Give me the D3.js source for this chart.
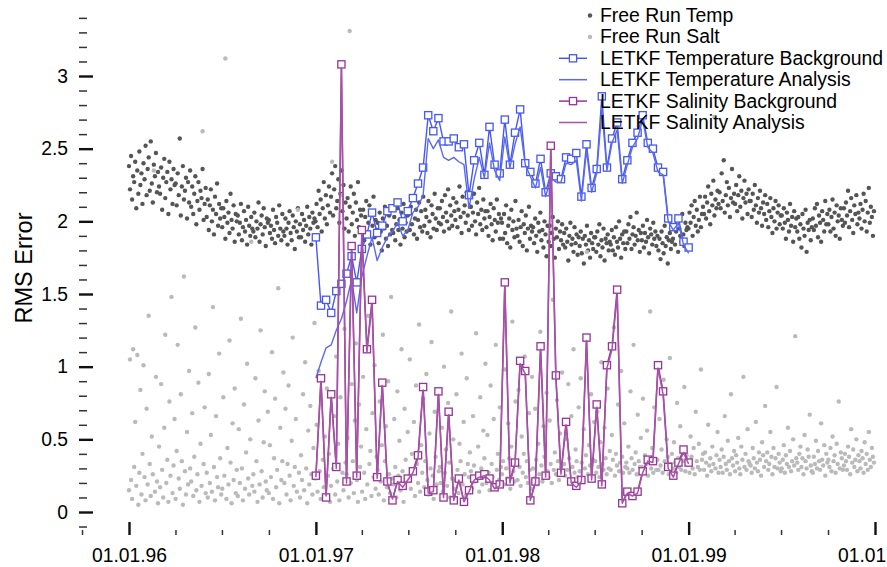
<!DOCTYPE html>
<html>
<head>
<meta charset="utf-8">
<script src="https://cdn.jsdelivr.net/npm/d3@7"></script>
<style>
body { margin: 0; background: #fff; }
svg { font-family: "Liberation Sans", Arial, Helvetica, sans-serif; }
</style>
</head>
<body>
<script>
// Free run: one value about every 2 days, 1996-01-01 .. 1999-12-31 (one row = one month)
var freeTemp = [
2.38,2.22,2.45,2.15,2.31,2.27,2.41,2.09,2.35,2.19,2.48,2.25,2.33,2.12,2.40,
2.29,2.52,2.18,2.36,2.44,2.21,2.55,2.26,2.13,2.39,2.31,2.47,2.20,2.34,2.24,
2.19,2.37,2.08,2.30,2.43,2.16,2.27,2.34,2.05,2.41,2.22,2.29,2.12,2.36,2.25,
2.26,2.11,2.33,2.18,2.57,2.04,2.24,2.38,2.15,2.21,2.30,2.02,2.27,2.13,2.35,
2.10,2.24,2.05,2.19,2.31,1.98,2.14,2.27,2.08,2.21,2.16,2.36,2.01,2.12,2.23,
2.03,2.15,1.94,2.11,2.22,2.00,2.08,1.91,2.17,2.05,2.26,1.97,2.12,2.02,2.09,
1.96,2.09,2.03,1.88,2.14,1.99,2.06,1.92,2.19,2.01,1.95,2.11,1.86,2.05,2.00,
2.04,1.91,1.99,2.12,1.87,1.96,2.07,1.93,2.01,1.84,2.10,1.97,1.90,2.03,1.95,
1.93,2.06,1.89,2.00,1.95,2.13,1.86,1.98,2.04,1.91,2.09,1.96,1.83,2.02,1.99,
2.01,1.92,1.97,1.88,2.08,1.94,1.85,2.03,1.99,1.90,2.11,1.95,1.87,2.05,1.93,
1.90,2.02,1.95,1.84,1.99,2.07,1.92,1.87,2.04,1.96,1.81,2.00,1.93,2.09,1.89,
1.98,1.89,2.05,1.94,2.01,1.86,1.97,2.10,1.91,2.03,1.95,1.84,2.06,1.99,2.02,
2.00,2.12,1.96,2.21,2.05,2.15,1.93,2.09,2.27,2.02,2.18,1.98,2.11,2.24,2.06,
2.17,2.33,2.04,2.22,2.38,2.09,2.14,2.29,1.99,2.19,2.35,2.07,2.25,1.95,2.13,
2.02,2.16,1.93,2.10,2.24,1.98,2.06,2.19,1.90,2.13,2.01,2.27,1.96,2.08,2.04,
1.95,2.08,1.87,2.03,2.14,1.92,1.99,2.11,1.84,2.05,1.97,2.17,1.89,2.01,1.94,
1.99,1.85,2.06,1.93,1.80,2.02,1.95,2.10,1.88,1.97,1.83,2.04,1.91,2.08,1.94,
1.92,2.03,1.87,1.98,2.09,1.94,2.01,1.84,2.06,1.95,2.12,1.89,1.99,1.93,2.04,
2.05,1.94,2.10,1.98,2.15,1.91,2.02,2.08,1.88,2.01,2.13,1.96,2.07,1.93,2.17,
1.97,2.08,2.03,1.92,2.14,2.00,1.89,2.11,2.05,1.95,2.19,2.02,1.94,2.09,1.99,
2.09,1.98,2.14,2.03,1.93,2.18,2.06,2.00,2.22,1.95,2.11,2.04,1.97,2.16,2.07,
2.01,2.13,1.96,2.08,2.24,2.03,1.92,2.17,2.06,2.11,1.99,2.20,2.04,1.94,2.10,
2.10,1.97,2.06,2.19,2.00,1.91,2.13,2.05,2.23,1.98,2.08,1.94,2.15,2.02,2.07,
1.96,2.07,1.90,2.03,2.12,1.98,1.87,2.09,2.01,1.93,2.15,1.99,2.05,1.88,2.02,
1.99,1.88,2.05,1.92,2.11,1.85,1.97,2.02,1.82,2.08,1.94,2.00,1.89,2.14,1.95,
1.90,2.01,1.86,1.96,2.07,1.83,1.98,1.92,2.04,1.80,1.95,2.10,1.88,1.97,1.93,
1.96,1.85,2.02,1.90,1.79,1.99,1.93,2.06,1.87,1.94,1.82,2.00,1.91,1.76,1.97,
1.86,1.97,1.83,1.92,2.03,1.88,1.75,1.95,1.89,2.00,1.81,1.93,1.87,1.98,1.84,
1.92,1.82,1.95,1.86,1.73,1.90,1.99,1.84,1.88,1.79,1.96,1.85,1.91,1.77,1.89,
1.83,1.93,1.78,1.88,1.71,1.90,1.84,1.97,1.80,1.87,1.75,1.92,1.85,1.81,1.89,
1.89,1.79,1.93,1.84,1.98,1.76,1.87,1.82,1.95,1.73,1.88,1.85,1.91,1.80,1.86,
1.84,1.94,1.80,1.89,1.77,1.96,1.86,1.82,2.00,1.88,1.75,1.91,1.85,1.93,1.81,
1.93,1.85,1.98,1.88,2.03,1.81,1.91,1.96,1.84,1.90,2.06,1.87,1.94,1.79,1.92,
1.87,1.97,1.82,1.92,1.86,2.01,1.89,1.78,1.95,1.91,1.84,1.99,1.88,1.93,1.83,
1.90,1.80,1.88,1.74,1.93,1.85,1.78,1.97,1.83,1.89,1.71,1.87,1.92,1.81,1.86,
1.88,1.97,1.84,1.93,2.02,1.79,1.95,1.90,1.86,2.05,1.91,1.83,1.99,1.94,1.96,
1.95,2.06,1.99,2.11,1.90,2.03,2.14,1.97,2.08,1.93,2.01,2.17,1.96,2.05,2.10,
2.05,2.17,2.02,2.13,2.24,2.07,1.98,2.19,2.11,2.28,2.04,2.15,2.09,2.21,2.12,
2.20,2.09,2.33,2.14,2.42,2.06,2.18,2.27,2.11,2.23,2.03,2.16,2.36,2.13,2.19,
2.12,2.25,2.07,2.18,2.31,2.10,2.21,2.02,2.16,2.28,2.13,2.19,2.05,2.22,2.14,
2.14,2.03,2.19,2.08,2.25,2.11,1.99,2.16,2.06,2.21,2.09,1.97,2.13,2.05,2.18,
2.01,2.12,1.96,2.07,2.16,2.03,1.92,2.09,2.00,2.14,1.95,2.06,2.11,1.98,2.04,
2.04,1.95,2.09,1.99,1.88,2.06,2.01,1.93,2.12,1.97,2.03,1.86,2.07,1.96,2.02,
1.93,2.03,1.88,1.98,1.82,2.05,1.95,1.90,2.08,1.79,1.99,1.94,2.01,1.87,1.96,
2.02,1.94,2.09,1.97,2.12,1.89,2.04,1.99,1.86,2.07,2.01,1.93,2.14,1.98,2.05,
1.98,2.08,1.93,2.03,2.15,1.95,2.06,1.90,2.11,2.00,2.04,1.88,2.09,2.01,1.97,
2.09,1.99,2.13,2.04,2.21,1.96,2.07,2.16,2.01,1.92,2.11,2.05,2.18,1.98,2.06,
2.02,2.12,1.95,2.08,2.19,2.00,2.14,1.93,2.06,2.23,1.99,2.10,2.03,1.90,2.07
];

var freeSalt = [
0.15,1.05,0.22,0.09,1.12,0.31,0.62,0.18,1.08,0.05,0.27,0.84,0.12,0.40,1.01,
0.24,0.08,0.71,0.19,1.35,0.33,0.11,0.52,0.26,2.35,0.14,0.93,0.21,0.06,0.45,
0.17,0.88,0.29,0.10,0.58,1.22,0.20,0.36,0.07,0.76,0.25,1.48,0.13,0.32,0.64,
0.09,0.42,1.15,0.23,0.16,0.81,0.35,0.05,1.62,0.28,0.12,0.55,0.19,0.97,0.30,
0.21,0.68,0.11,0.38,1.27,0.15,0.26,0.89,0.07,0.47,0.18,2.62,0.33,0.72,0.13,
0.27,0.10,0.95,0.20,0.53,0.14,1.41,0.31,0.08,0.66,0.24,0.17,1.09,0.37,0.12,
0.16,0.79,0.25,3.12,0.09,0.44,0.19,1.18,0.34,0.06,0.61,0.22,0.85,0.13,0.29,
0.11,0.57,0.20,1.33,0.30,0.08,0.74,0.16,0.41,1.02,0.23,0.12,0.50,1.86,0.18,
0.26,0.14,0.92,0.35,0.07,0.63,0.19,1.25,0.28,0.10,0.48,0.83,0.21,0.15,0.69,
0.13,0.46,0.24,1.10,0.09,0.37,0.78,0.17,0.29,1.54,0.06,0.58,0.22,0.35,0.96,
0.20,0.71,0.12,0.33,0.87,0.25,0.08,0.49,1.20,0.18,0.31,0.64,0.14,2.08,0.27,
0.10,0.39,0.22,0.81,0.15,1.03,0.30,0.06,0.56,0.19,0.73,0.26,0.12,0.44,1.30,
0.23,0.60,0.14,0.97,0.28,0.09,1.44,0.36,0.17,0.52,0.11,0.85,0.25,0.40,0.07,
0.18,2.41,0.30,0.66,0.12,1.07,0.21,0.47,0.08,0.79,2.18,0.27,0.15,1.26,0.34,
0.26,0.51,0.10,3.31,0.20,0.88,0.35,0.13,0.63,1.16,0.22,0.07,0.74,0.31,0.45,
0.14,0.93,0.27,0.09,0.57,0.19,1.35,0.33,0.42,0.11,0.68,0.24,1.01,0.16,0.38,
0.29,0.12,0.76,0.21,0.46,1.22,0.08,0.35,0.59,0.17,0.90,0.26,0.13,1.48,0.23,
0.19,0.64,0.31,0.10,0.83,0.25,0.49,0.15,1.12,0.28,0.07,0.71,0.36,0.21,0.55,
0.24,1.05,0.16,0.40,0.28,0.62,0.11,0.87,0.33,0.20,1.29,0.14,0.46,0.27,0.78,
0.17,0.35,0.95,0.22,0.12,0.54,0.30,1.17,0.25,0.09,0.69,0.38,0.19,0.84,0.28,
0.31,0.20,0.58,0.14,1.00,0.27,0.43,0.18,0.75,0.34,0.10,1.38,0.23,0.50,0.16,
0.22,0.81,0.29,0.13,0.47,0.35,1.09,0.19,0.62,0.26,0.11,0.92,0.33,0.24,0.41,
0.28,0.16,0.66,0.32,0.21,1.23,0.25,0.45,0.14,0.79,0.30,0.19,0.56,0.37,1.02,
0.20,0.53,0.27,0.15,0.87,0.33,0.24,0.64,0.18,1.15,0.29,0.40,0.22,0.72,0.31,
0.26,0.35,0.19,0.98,0.30,0.23,0.61,0.37,0.16,0.45,1.31,0.28,0.21,0.76,0.33,
0.22,0.84,0.31,0.18,0.52,0.27,0.40,1.07,0.24,0.35,0.20,0.68,0.29,0.16,0.93,
0.30,0.23,0.71,0.36,0.19,0.47,0.26,1.24,0.32,0.21,0.59,0.38,0.25,0.82,0.28,
0.24,0.63,0.33,0.20,1.46,0.29,0.41,0.26,0.77,0.35,0.22,0.54,0.31,0.96,0.27,
0.33,0.25,0.50,0.29,0.88,0.37,0.21,0.66,0.31,1.12,0.27,0.43,0.35,0.24,0.72,
0.28,0.92,0.34,0.23,0.57,0.30,0.39,1.79,0.26,0.46,0.32,0.81,0.25,0.36,0.62,
0.35,0.27,0.69,0.31,0.24,0.48,1.03,0.33,0.29,0.58,0.37,0.26,0.85,0.30,0.42,
0.29,0.53,0.36,1.27,0.25,0.40,0.32,0.74,0.28,0.34,0.97,0.38,0.27,0.61,0.31,
0.34,0.30,0.45,0.27,0.83,0.37,0.29,1.15,0.33,0.41,0.26,0.67,0.35,0.31,0.51,
0.31,0.78,0.28,0.39,0.33,0.56,0.25,0.36,1.38,0.30,0.44,0.27,0.72,0.34,0.29,
0.36,0.29,0.64,0.32,0.43,0.27,0.91,0.35,0.30,0.50,0.38,0.26,1.06,0.33,0.40,
0.30,0.48,0.34,0.27,0.75,0.37,0.31,0.59,0.29,0.42,0.35,0.86,0.28,0.39,0.33,
0.33,0.27,0.52,0.38,0.30,0.44,0.26,0.69,0.35,0.31,0.47,0.29,0.98,0.36,0.40,
0.29,0.41,0.34,0.25,0.60,0.32,0.37,0.28,0.45,0.33,2.72,0.30,0.39,0.55,0.27,
0.36,0.31,0.43,0.27,0.38,0.66,0.33,0.29,0.49,0.35,0.26,0.81,0.37,0.32,0.42,
0.28,0.39,0.34,0.51,0.30,0.26,0.45,0.36,0.93,0.31,0.40,0.29,0.57,0.35,0.33,
0.32,0.27,0.44,0.37,0.30,0.62,0.34,0.28,0.41,0.36,0.25,0.48,0.39,0.31,0.73,
0.35,0.41,0.29,0.33,0.55,0.38,0.26,0.44,0.31,0.37,0.86,0.30,0.40,0.34,0.28,
0.30,0.36,0.46,0.27,0.39,0.33,0.58,0.31,0.42,0.28,0.35,0.50,0.32,1.21,0.37,
0.34,0.29,0.40,0.45,0.31,0.37,0.26,0.53,0.35,0.30,0.43,0.38,0.67,0.32,0.28,
0.27,0.38,0.33,0.49,0.30,0.42,0.35,0.29,0.61,0.36,0.32,0.46,0.25,0.40,0.34,
0.36,0.31,0.44,0.28,0.52,0.35,0.39,0.27,0.47,0.33,0.76,0.30,0.41,0.37,0.29,
0.32,0.40,0.35,0.29,0.45,0.38,0.26,0.57,0.34,0.43,0.31,0.36,0.50,0.28,0.39,
0.35,0.30,0.42,0.37,0.27,0.48,0.33,0.40,0.29,0.55,0.36,0.31,0.44,0.38,0.34
];

// LETKF: one value every 10 days from 1997-01-01
var tempBg = [1.89,1.42,1.46,1.37,1.52,1.57,1.64,1.76,1.58,1.81,1.91,2.06,1.92,1.97,2.07,2.09,2.13,2.00,2.07,2.16,
  2.26,2.37,2.73,2.62,2.71,2.55,2.55,2.57,2.51,2.53,2.18,2.42,2.54,2.32,2.65,2.39,2.33,2.70,2.39,2.61,
  2.77,2.40,2.34,2.26,2.43,2.20,2.33,2.31,2.29,2.44,2.43,2.47,2.17,2.53,2.23,2.36,2.86,2.37,2.57,2.68,
  2.29,2.42,2.54,2.61,2.73,2.54,2.50,2.37,2.34,2.02,1.96,2.02,1.86,1.82];
var tempAn = [0.92,1.03,1.13,1.15,1.25,1.33,1.45,1.60,1.37,1.62,1.76,1.89,1.73,1.82,1.89,1.93,1.99,1.90,1.94,2.06,
  2.10,2.18,2.57,2.50,2.56,2.44,2.42,2.44,2.41,2.39,2.09,2.29,2.44,2.30,2.54,2.35,2.28,2.58,2.37,2.53,
  2.65,2.39,2.31,2.23,2.37,2.17,2.30,2.27,2.27,2.40,2.39,2.42,2.14,2.49,2.20,2.33,2.77,2.35,2.54,2.63,
  2.26,2.39,2.51,2.57,2.70,2.51,2.47,2.34,2.32,2.00,1.94,1.99,1.84,1.78];
var saltBg = [0.25,0.92,0.10,0.81,0.31,3.08,0.21,1.83,0.25,1.94,1.12,1.46,0.24,0.89,0.21,0.08,0.22,0.18,0.23,0.28,
  0.39,0.86,0.14,0.15,0.83,0.10,0.69,0.08,0.23,0.07,0.15,0.23,0.25,0.26,0.23,0.17,0.19,1.58,0.21,0.34,
  1.04,0.97,0.08,0.21,1.14,0.25,2.52,0.94,0.27,0.62,0.21,0.18,0.22,1.20,0.23,0.74,0.19,1.01,1.14,1.53,
  0.06,0.14,0.11,0.14,0.28,0.36,0.35,1.01,0.83,0.31,0.25,0.34,0.43,0.34];
var saltAn = [0.24,0.90,0.11,0.79,0.30,3.05,0.20,1.80,0.24,1.91,1.10,1.43,0.23,0.87,0.20,0.09,0.21,0.17,0.22,0.27,
  0.37,0.84,0.13,0.14,0.81,0.10,0.67,0.08,0.22,0.07,0.14,0.22,0.24,0.25,0.22,0.16,0.18,1.55,0.20,0.33,
  1.02,0.95,0.08,0.20,1.12,0.24,2.49,0.92,0.26,0.60,0.20,0.17,0.21,1.18,0.22,0.72,0.18,0.99,1.12,1.50,
  0.06,0.13,0.11,0.13,0.27,0.35,0.34,0.99,0.81,0.30,0.24,0.33,0.41,0.33];

var legendLabels = ["Free Run Temp", "Free Run Salt", "LETKF Temperature Background",
  "LETKF Temperature Analysis", "LETKF Salinity Background", "LETKF Salinity Analysis"];
var yMajor = [0, 0.5, 1, 1.5, 2, 2.5, 3];
var yLabels = ["0", "0.5", "1", "1.5", "2", "2.5", "3"];
var xYears = [1996, 1997, 1998, 1999, 2000];

var width = 887, height = 567;
var cTempFree = "#555555", cSaltFree = "#bababa";
var cTempBg = "#4657f2", cTempAn = "#5a6af0", cSaltBg = "#963596", cSaltAn = "#a752a7";

var svg = d3.select("body").append("svg")
  .attr("width", width)
  .attr("height", height);

var x = d3.scaleUtc()
  .domain([new Date(Date.UTC(1996, 0, 1)), new Date(Date.UTC(2000, 0, 1))])
  .range([129, 875]);
var y = d3.scaleLinear()
  .domain([0, 3])
  .range([512, 76]);

var freeStart = Date.UTC(1996, 0, 1), freeStep = 1461 / 720 * 864e5;
function freeDate(i) { return new Date(freeStart + i * freeStep); }
function letkfDate(i) { return d3.utcDay.offset(new Date(Date.UTC(1997, 0, 1)), 10 * i); }

// y axis: major + minor ticks, no domain line
var yAxis = svg.append("g")
  .attr("transform", "translate(93,0)")
  .call(d3.axisLeft(y).tickValues(yMajor).tickSize(14).tickPadding(11)
    .tickFormat(function(d, i) { return yLabels[i]; }));
yAxis.select(".domain").remove();
yAxis.selectAll("line").attr("stroke", "#111").attr("stroke-width", 2.4);
yAxis.selectAll("text").attr("font-size", "19.3px").attr("fill", "#000")
  .attr("font-family", "Liberation Sans, Arial, sans-serif");

var yMinor = d3.range(-1, 35).filter(function(k) { return k % 5 !== 0; }).map(function(k) { return k / 10; });
var yAxisMinor = svg.append("g")
  .attr("transform", "translate(87,0)")
  .call(d3.axisLeft(y).tickValues(yMinor).tickSize(8).tickFormat(""));
yAxisMinor.select(".domain").remove();
yAxisMinor.selectAll("line").attr("stroke", "#333").attr("stroke-width", 1.5);

// x axis
var xMajor = xYears.map(function(yr) { return new Date(Date.UTC(yr, 0, 1)); });
var xAxis = svg.append("g")
  .attr("transform", "translate(0,522)")
  .call(d3.axisBottom(x).tickValues(xMajor).tickSize(13).tickPadding(13)
    .tickFormat(d3.utcFormat("%d.%m.%y")));
xAxis.select(".domain").remove();
xAxis.selectAll("line").attr("stroke", "#111").attr("stroke-width", 2.4);
xAxis.selectAll("text").attr("font-size", "19.3px").attr("fill", "#000")
  .attr("font-family", "Liberation Sans, Arial, sans-serif");

var xMinor = d3.utcMonth.every(3).range(new Date(Date.UTC(1995, 9, 1)), new Date(Date.UTC(2000, 0, 2)))
  .filter(function(d) { return d.getUTCMonth() !== 0; });
var xAxisMinor = svg.append("g")
  .attr("transform", "translate(0,530)")
  .call(d3.axisBottom(x).tickValues(xMinor).tickSize(5).tickFormat(""));
xAxisMinor.select(".domain").remove();
xAxisMinor.selectAll("line").attr("stroke", "#333").attr("stroke-width", 1.5);

// y label
svg.append("text")
  .attr("transform", "translate(32,268) rotate(-90)")
  .attr("text-anchor", "middle")
  .attr("font-size", "23.5px")
  .attr("fill", "#000")
  .text("RMS Error");

// free run dots
svg.append("g").selectAll("circle").data(freeTemp).join("circle")
  .attr("cx", function(d, i) { return x(freeDate(i)); })
  .attr("cy", function(d) { return y(d); })
  .attr("r", 2.2)
  .attr("fill", cTempFree);
svg.append("g").selectAll("circle").data(freeSalt).join("circle")
  .attr("cx", function(d, i) { return x(freeDate(i)); })
  .attr("cy", function(d) { return y(d); })
  .attr("r", 2.2)
  .attr("fill", cSaltFree);

var line = d3.line()
  .x(function(d, i) { return x(letkfDate(i)); })
  .y(function(d) { return y(d); });

function drawSeries(vals, color, width, markers) {
  svg.append("path").datum(vals)
    .attr("d", line)
    .attr("fill", "none")
    .attr("stroke", color)
    .attr("stroke-width", width)
    .attr("stroke-linejoin", "round");
  if (markers) {
    svg.append("g").selectAll("rect").data(vals).join("rect")
      .attr("x", function(d, i) { return x(letkfDate(i)) - 3.6; })
      .attr("y", function(d) { return y(d) - 3.6; })
      .attr("width", 7.2).attr("height", 7.2)
      .attr("fill", "#fff")
      .attr("stroke", color)
      .attr("stroke-width", 1.3);
  }
}
drawSeries(tempBg, cTempBg, 1.4, true);
drawSeries(tempAn, cTempAn, 1.4, false);
drawSeries(saltBg, cSaltBg, 1.5, true);
drawSeries(saltAn, cSaltAn, 1.5, false);

// legend
var legendColors = [cTempFree, cSaltFree, cTempBg, cTempAn, cSaltBg, cSaltAn];
var legend = svg.append("g");
legendLabels.forEach(function(lab, i) {
  var base = 22 + i * 21.4, cy = base - 6.5;
  if (i < 2) {
    legend.append("circle").attr("cx", 590).attr("cy", cy).attr("r", 2.2).attr("fill", legendColors[i]);
  } else {
    legend.append("line").attr("x1", 559).attr("x2", 587).attr("y1", cy).attr("y2", cy)
      .attr("stroke", legendColors[i]).attr("stroke-width", 1.5);
    if (i === 2 || i === 4) {
      legend.append("rect").attr("x", 569.4).attr("y", cy - 3.6).attr("width", 7.2).attr("height", 7.2)
        .attr("fill", "#fff").attr("stroke", legendColors[i]).attr("stroke-width", 1.3);
    }
  }
  legend.append("text").attr("x", 600).attr("y", base)
    .attr("font-size", "19.4px").attr("fill", "#000").text(lab);
});
</script>
</body>
</html>
